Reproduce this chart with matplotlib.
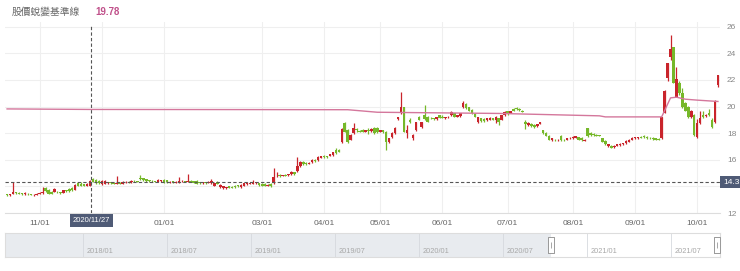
import numpy as np
import matplotlib.pyplot as plt
from matplotlib import transforms

plt.rcParams['font.family'] = ['Liberation Sans', 'Noto Sans CJK TC', 'DejaVu Sans']

# daily candles, trading day 0 = mid Oct 2020
opens = [13.40, 13.35, 13.45, 13.55, 13.50, 13.45, 13.42, 13.45, 13.40, 13.32, 13.38,
         13.45, 13.50, 13.90, 13.75, 13.55, 13.60, 13.60, 13.52, 13.50, 13.68, 13.80, 13.90, 13.75, 14.25, 14.20, 14.15, 14.05, 14.05,
         14.55, 14.50, 14.40, 14.15, 14.20, 14.25, 14.30, 14.25, 14.20, 14.25, 14.20, 14.30, 14.35, 14.30, 14.40, 14.38, 14.65, 14.60, 14.55, 14.45, 14.40, 14.38, 14.35, 14.40,
         14.50, 14.45, 14.30, 14.35, 14.28, 14.30, 14.38, 14.38, 14.36, 14.40, 14.38, 14.40, 14.30, 14.25, 14.28, 14.25, 14.25, 14.05, 14.35, 13.95, 13.85, 13.85, 14.00, 13.98, 14.05, 14.08, 13.95, 14.05, 14.15, 14.20, 14.20, 14.25, 14.25, 14.20,
         14.20, 14.05, 14.20, 14.25, 14.75, 14.80, 14.80, 14.85, 14.82, 14.90, 15.05, 15.15, 15.50, 15.85, 15.75, 15.70, 15.80, 15.98, 15.95, 16.15, 16.25,
         16.25, 16.30, 16.35, 16.75, 16.70, 17.30, 18.75, 18.20, 17.50, 18.00, 18.30, 18.15, 18.25, 18.10, 18.25, 18.15, 18.40, 18.40, 18.10,
         18.20, 18.10, 17.30, 17.70, 18.00, 19.05, 19.50, 19.95, 18.00, 19.00, 17.60, 18.20, 19.20, 18.45, 19.40, 19.20, 19.15, 19.10, 19.05, 19.35, 19.25,
         19.10, 19.20, 19.35, 19.50, 19.25, 19.30, 19.95, 20.20, 19.95, 19.75, 19.45, 18.80, 19.10, 19.05, 18.95, 19.00, 19.10, 18.95, 19.10, 19.00, 19.35, 19.65,
         19.55, 19.85, 19.90, 19.85, 19.70, 18.80, 18.60, 18.70, 18.60, 18.50, 18.70, 18.20, 18.00, 17.80, 17.45, 17.50, 17.45, 17.75, 17.50, 17.50, 17.60,
         17.60, 17.65, 17.70, 17.65, 17.40, 18.35, 18.00, 17.95, 17.85, 17.85, 17.60, 17.40, 17.00, 17.05, 16.95, 17.05, 17.10, 17.15, 17.25, 17.35, 17.50, 17.60,
         17.62, 17.70, 17.80, 17.70, 17.65, 17.65, 17.60, 17.55,
         17.60, 19.55, 22.15, 23.70, 24.45, 20.75, 21.80, 21.00, 20.25, 19.95, 19.25, 19.35, 17.70, 18.75, 19.40, 19.30, 19.55, 19.00, 18.80, 21.65]
highs = [13.45, 13.42, 14.35, 13.60, 13.55, 13.50, 13.60, 13.50, 13.45, 13.40, 13.50,
         13.55, 13.95, 13.95, 13.80, 13.65, 13.85, 13.65, 13.58, 13.75, 13.75, 13.85, 13.95, 14.15, 14.35, 14.30, 14.20, 14.25, 14.45,
         14.60, 14.55, 14.45, 14.45, 14.45, 14.35, 14.35, 14.30, 14.80, 14.30, 14.40, 14.38, 14.40, 14.45, 14.45, 14.42, 14.88, 14.65, 14.58, 14.50, 14.45, 14.42, 14.52, 14.48,
         14.55, 14.50, 14.40, 14.40, 14.40, 14.70, 14.45, 14.42, 14.90, 14.45, 14.42, 14.45, 14.35, 14.30, 14.32, 14.38, 14.55, 14.25, 14.40, 14.15, 14.05, 13.95, 14.05, 14.02, 14.10, 14.12, 14.15, 14.25, 14.30, 14.28, 14.50, 14.35, 14.28, 14.25,
         14.25, 14.15, 14.25, 15.40, 15.10, 14.90, 14.88, 14.92, 14.95, 15.15, 15.10, 16.20, 15.90, 15.90, 15.80, 15.80, 16.05, 16.02, 16.30, 16.30, 16.35,
         16.30, 16.45, 16.60, 16.90, 16.80, 18.35, 18.80, 18.30, 17.90, 18.75, 18.40, 18.25, 18.30, 18.25, 18.40, 18.35, 18.45, 18.45, 18.25,
         18.25, 18.15, 17.65, 18.05, 18.45, 19.25, 21.10, 20.00, 18.60, 19.15, 17.95, 18.85, 19.30, 18.85, 20.10, 19.30, 19.25, 19.15, 19.25, 19.40, 19.35,
         19.25, 19.30, 19.65, 19.55, 19.40, 19.55, 20.40, 20.25, 20.00, 19.80, 19.50, 19.25, 19.15, 19.10, 19.15, 19.20, 19.15, 19.30, 19.15, 19.40, 19.65, 19.70,
         19.70, 19.90, 19.95, 19.90, 19.75, 19.00, 18.80, 18.75, 18.65, 18.72, 18.85, 18.25, 18.05, 17.85, 17.65, 17.55, 17.55, 17.85, 17.55, 17.65, 17.70,
         17.75, 17.80, 17.72, 17.70, 17.55, 18.40, 18.05, 18.00, 17.90, 17.88, 17.65, 17.45, 17.20, 17.10, 17.10, 17.18, 17.25, 17.28, 17.45, 17.55, 17.70, 17.72,
         17.72, 17.75, 17.85, 17.75, 17.70, 17.70, 17.62, 17.60,
         19.25, 21.25, 23.30, 25.35, 24.50, 22.95, 21.90, 21.40, 20.35, 20.05, 19.75, 19.45, 19.05, 19.70, 19.70, 19.45, 19.85, 19.10, 20.50, 22.40]
lows = [13.30, 13.30, 13.40, 13.45, 13.42, 13.38, 13.38, 13.35, 13.32, 13.28, 13.35,
        13.40, 13.45, 13.60, 13.40, 13.40, 13.55, 13.50, 13.45, 13.48, 13.60, 13.60, 13.65, 13.72, 14.00, 14.00, 14.00, 14.00, 14.00,
        14.30, 14.20, 14.20, 14.10, 14.15, 14.20, 14.20, 14.15, 14.15, 14.15, 14.18, 14.22, 14.25, 14.25, 14.32, 14.30, 14.50, 14.40, 14.35, 14.35, 14.32, 14.30, 14.32, 14.35,
        14.25, 14.25, 14.25, 14.28, 14.25, 14.28, 14.30, 14.32, 14.32, 14.30, 14.25, 14.15, 14.18, 14.18, 14.20, 14.22, 14.20, 14.00, 14.15, 13.90, 13.80, 13.80, 13.85, 13.88, 13.90, 13.95, 13.90, 14.00, 14.10, 14.15, 14.18, 14.20, 14.05, 14.00,
        14.00, 14.00, 13.95, 14.20, 14.70, 14.72, 14.75, 14.78, 14.80, 14.85, 14.85, 15.10, 15.45, 15.60, 15.60, 15.65, 15.75, 15.85, 15.90, 16.10, 16.15,
        16.15, 16.25, 16.30, 16.45, 16.55, 17.25, 18.05, 17.25, 17.45, 17.95, 18.10, 18.05, 18.05, 18.05, 17.90, 18.10, 17.95, 18.00, 18.05,
        18.00, 16.70, 17.25, 17.65, 17.95, 19.00, 19.45, 18.05, 17.60, 18.75, 17.50, 18.15, 18.95, 18.40, 19.00, 18.80, 19.05, 19.00, 19.00, 19.10, 19.10,
        19.05, 19.15, 19.30, 19.20, 19.20, 19.25, 19.90, 19.85, 19.65, 19.45, 19.20, 18.75, 18.85, 18.85, 18.90, 18.95, 18.95, 18.75, 18.60, 18.95, 19.30, 19.40,
        19.50, 19.65, 19.75, 19.70, 19.60, 18.30, 18.55, 18.45, 18.40, 18.45, 18.65, 17.95, 17.75, 17.45, 17.40, 17.40, 17.40, 17.40, 17.40, 17.45, 17.55,
        17.55, 17.60, 17.45, 17.40, 17.38, 17.70, 17.80, 17.80, 17.75, 17.75, 17.30, 17.10, 16.95, 16.88, 16.92, 17.00, 17.05, 17.10, 17.20, 17.30, 17.45, 17.55,
        17.58, 17.60, 17.65, 17.55, 17.55, 17.50, 17.48, 17.45,
        17.55, 19.50, 21.90, 23.50, 21.75, 20.70, 20.90, 19.90, 19.65, 19.15, 19.15, 17.80, 17.65, 18.70, 19.15, 19.20, 19.30, 18.40, 18.75, 21.45]
closes = [13.35, 13.38, 13.60, 13.50, 13.45, 13.42, 13.45, 13.40, 13.36, 13.38, 13.45,
          13.50, 13.55, 13.65, 13.45, 13.45, 13.78, 13.55, 13.50, 13.70, 13.65, 13.62, 13.70, 14.10, 14.05, 14.05, 14.05, 14.20, 14.40,
          14.35, 14.25, 14.25, 14.40, 14.40, 14.30, 14.25, 14.20, 14.25, 14.20, 14.35, 14.35, 14.30, 14.42, 14.38, 14.35, 14.52, 14.45, 14.40, 14.40, 14.38, 14.35, 14.48, 14.45,
          14.30, 14.30, 14.35, 14.32, 14.36, 14.42, 14.40, 14.36, 14.40, 14.35, 14.28, 14.20, 14.22, 14.28, 14.25, 14.30, 14.40, 14.22, 14.18, 14.10, 14.00, 13.92, 13.88, 13.90, 13.95, 14.00, 14.10, 14.22, 14.25, 14.22, 14.30, 14.30, 14.10, 14.05,
          14.05, 14.10, 14.00, 14.70, 14.80, 14.78, 14.85, 14.80, 14.90, 15.10, 14.90, 15.55, 15.80, 15.65, 15.65, 15.75, 16.00, 15.90, 16.20, 16.25, 16.20,
          16.20, 16.40, 16.55, 16.50, 16.60, 18.30, 18.10, 17.30, 17.85, 18.40, 18.20, 18.10, 18.10, 18.20, 18.15, 18.30, 18.00, 18.05, 18.20,
          18.05, 17.30, 17.60, 18.00, 18.40, 19.20, 20.00, 18.10, 18.20, 18.80, 17.85, 18.80, 19.00, 18.80, 19.05, 18.85, 19.10, 19.05, 19.20, 19.15, 19.15,
          19.20, 19.25, 19.60, 19.25, 19.35, 19.50, 20.25, 19.90, 19.70, 19.50, 19.25, 19.20, 18.90, 18.90, 19.10, 19.15, 19.00, 19.20, 18.85, 19.35, 19.60, 19.45,
          19.65, 19.70, 19.80, 19.75, 19.62, 18.70, 18.75, 18.50, 18.45, 18.70, 18.80, 18.00, 17.80, 17.50, 17.60, 17.45, 17.50, 17.45, 17.45, 17.60, 17.65,
          17.70, 17.75, 17.50, 17.45, 17.50, 17.75, 17.85, 17.85, 17.80, 17.78, 17.35, 17.15, 17.15, 16.92, 17.05, 17.15, 17.22, 17.25, 17.40, 17.50, 17.65, 17.68,
          17.68, 17.65, 17.70, 17.60, 17.62, 17.55, 17.52, 17.50,
          19.20, 21.20, 23.25, 24.35, 21.80, 22.05, 21.00, 19.95, 19.70, 19.20, 19.70, 17.85, 18.75, 19.10, 19.20, 19.35, 19.35, 18.45, 20.45, 22.35]

# baseline (股價蛻變基準線) turning points
base_days = [0, 28, 80, 115, 125, 166, 200, 202, 221, 224, 226, 229, 233, 240]
base_vals = [19.82, 19.78, 19.77, 19.76, 19.57, 19.48, 19.30, 19.22, 19.22, 20.65, 20.70, 20.55, 20.48, 20.38]

# month grid; 12/01 sits under the date box so it has no label
month_ticks = [11, 32, 53, 86, 107, 126, 147, 169, 191, 212, 233]
month_labels = ['11/01', '', '01/01', '03/01', '04/01', '05/01', '06/01', '07/01', '08/01', '09/01', '10/01']
price_ticks = [12, 14, 16, 18, 20, 22, 24, 26]

cross_day = 28.4
cross_date = '2020/11/27'
cross_price = 14.3

nav_labels = ['2018/01', '2018/07', '2019/01', '2019/07', '2020/01', '2020/07', '2021/01', '2021/07']
nav_months = [0, 6, 12, 18, 24, 30, 36, 42]
nav_start, nav_end = 33.4, 45.5

RED = '#c9242b'
GREEN = '#76b82a'
PINK = '#d4779c'
DARK = '#4f5b76'

o = np.array(opens); h = np.array(highs); l = np.array(lows); c = np.array(closes)
days = np.arange(len(c))
cols = [RED if cc >= oo else GREEN for oo, cc in zip(o, c)]

fig = plt.figure(figsize=(7.4, 2.71), dpi=100)
ax = fig.add_axes([5 / 740, 58 / 271, 715 / 740, 191 / 271])

# candles
ax.vlines(days, l, h, colors=cols, lw=0.9, zorder=3)
ax.bar(days, np.maximum(np.abs(c - o), 0.05), bottom=np.minimum(o, c), width=0.85,
       color=cols, linewidth=0, zorder=4)

# baseline
ax.plot(base_days, base_vals, color=PINK, lw=1, zorder=5)

ax.set_xlim(-0.7, 240.7)
ax.set_ylim(12, 26.35)
ax.set_yticks(price_ticks)
# the 14 label is covered by the price box
ax.set_yticklabels(['' if abs(p - cross_price) < 0.5 else str(p) for p in price_ticks])
ax.set_xticks(month_ticks)
ax.set_xticklabels(month_labels)
ax.yaxis.tick_right()
ax.tick_params(axis='y', length=0, pad=5, labelsize=6, labelcolor='#888888')
ax.tick_params(axis='x', length=0, pad=5, labelsize=6, labelcolor='#666666')
ax.grid(True, color='#efefef', lw=0.8)
ax.set_axisbelow(True)
for s in ['top', 'left', 'right']:
    ax.spines[s].set_visible(False)
ax.spines['bottom'].set_color('#dddddd')

# crosshair
ax.axvline(cross_day, ymax=0.985, color='#555555', lw=0.8, ls=(0, (3, 2)), zorder=6)
ax.axhline(cross_price, color='#555555', lw=0.8, ls=(0, (3, 2)), zorder=6)
bx = transforms.blended_transform_factory(ax.transData, ax.transAxes)
ax.text(cross_day, -0.04, cross_date, transform=bx, ha='center', va='center', fontsize=5.5,
        color='white', zorder=10, bbox=dict(boxstyle='square,pad=0.35', fc=DARK, ec='none'))
by = transforms.blended_transform_factory(ax.transAxes, ax.transData)
ax.text(1.004, cross_price, f'{cross_price}', transform=by, ha='left', va='center', fontsize=6,
        color='white', zorder=10, bbox=dict(boxstyle='square,pad=0.3', fc=DARK, ec='none'))

# header
fig.text(12 / 740, 1 - 12 / 271, '股價蛻變基準線', family=['Noto Sans CJK TC'], fontsize=7,
         color='#666666', va='center')
fig.text(95 / 740, 1 - 12 / 271, f'{base_vals[1]:.2f}', fontsize=7, fontweight='bold',
         color='#c0508a', va='center')

# navigator
nav = fig.add_axes([5 / 740, 14 / 271, 715 / 740, 24 / 271])
nav.set_xlim(-5.6, 45.5)
nav.set_ylim(0, 1)
nav.axvspan(-5.6, nav_start, color='#e8ebef', lw=0)
for m, lab in zip(nav_months, nav_labels):
    nav.axvline(m, color='#d6d9de', lw=0.6)
    nav.text(m + 0.25, 0.22, lab, fontsize=5.3, color='#a8a8a8', va='center')
handle = [(-0.35, -1), (0.35, -1), (0.35, 1), (-0.35, 1), (-0.35, -1)]
for hx in [nav_start, nav_end - 0.2]:
    nav.plot([hx], [0.5], marker=handle, markersize=11, mfc='white', mec='#999999', mew=0.7,
             clip_on=False, zorder=5)
    nav.plot([hx], [0.5], marker='|', markersize=4, color='#999999', mew=0.6,
             clip_on=False, zorder=6)
nav.set_xticks([])
nav.set_yticks([])
for s in nav.spines.values():
    s.set_color('#dddddd')
    s.set_linewidth(0.8)

fig.savefig('out.png', dpi=100)
